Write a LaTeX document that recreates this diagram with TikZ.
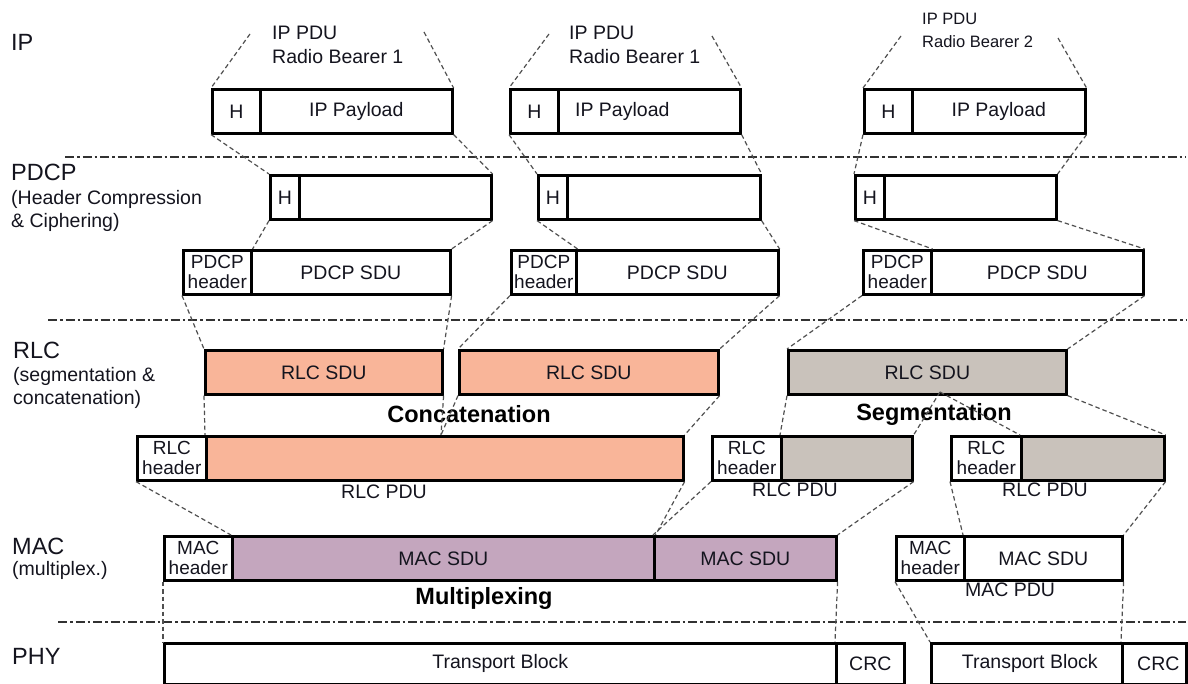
\documentclass[tikz,border=0pt]{standalone}
\usepackage{fontspec}
\setmainfont{Liberation Sans}
\definecolor{txt}{RGB}{20,20,30}
\definecolor{rlcorange}{RGB}{249,181,153}
\definecolor{rlcgray}{RGB}{201,194,187}
\definecolor{macpurple}{RGB}{196,166,190}
\definecolor{guide}{RGB}{80,80,80}
\definecolor{sepline}{RGB}{50,50,50}
\newcommand\cellfont{\fontsize{19.5}{21}\selectfont}
\newcommand\hdrfont{\fontsize{19}{20}\selectfont}
\newcommand\layerfont{\fontsize{23.5}{26}\selectfont}
\newcommand\notefont{\fontsize{19.5}{23.5}\selectfont}
\newcommand\opfont{\fontsize{23.5}{26}\selectfont\bfseries}
\begin{document}
\begin{tikzpicture}[x=1pt,y=-1pt,
  cell/.style={draw=black, line width=2.6pt, inner sep=0pt, anchor=north west,
    minimum height=44pt, font=\cellfont, text=txt},
  hdr/.style={cell, font=\hdrfont, align=center},
  guideline/.style={draw=guide, line width=1.2pt, dash pattern=on 4.5pt off 3pt},
  separator/.style={draw=sepline, line width=1.4pt, dash pattern=on 9pt off 3pt on 2.5pt off 3pt},
  layer/.style={anchor=west, inner sep=0pt, font=\layerfont, text=txt},
  note/.style={anchor=west, inner sep=0pt, font=\notefont, text=txt, align=left},
  caption/.style={inner sep=0pt, font=\cellfont, text=txt},
  op/.style={inner sep=0pt, font=\opfont, text=black}]
\useasboundingbox (0,0) rectangle (1188,684);
\fill[white] (0,0) rectangle (1188,684);

% layer separators
\draw[separator] (65,157) -- (1186,157);
\draw[separator] (48,320) -- (1186,320);
\draw[separator] (58,622) -- (1186,622);

% layer names
\node[layer] (lip) at (11,42) {IP};
\node[layer] (lpdcp) at (11,172) {PDCP};
\node[note] (npdcp) at (11,211) {(Header Compression\\\& Ciphering)};
\node[layer] (lrlc) at (13,350) {RLC};
\node[note] (nrlc) at (13,388) {(segmentation \&\\concatenation)};
\node[layer] (lmac) at (12,546) {MAC};
\node[note] (nmac) at (12,570) {(multiplex.)};
\node[layer] (lphy) at (12,656) {PHY};

% IP PDUs
\node[note] (t1) at (272,45) {IP PDU\\Radio Bearer 1};
\node[note] (t2) at (569,45) {IP PDU\\Radio Bearer 1};
\node[note, font=\fontsize{16.5}{23}\selectfont] (t3) at (922,30) {IP PDU\\Radio Bearer 2};
\coordinate (t1l) at (250,34);
\coordinate (t1r) at (424,32);
\coordinate (t2l) at (549,34);
\coordinate (t2r) at (712,36);
\coordinate (t3l) at (901,36);
\coordinate (t3r) at (1058,38);

\node[cell, minimum width=48pt] (ip1h) at (211,88) {H};
\node[cell, minimum width=192pt] (ip1p) at (259,88) {IP Payload};
\node[cell, minimum width=48pt] (ip2h) at (509,88) {H};
\node[cell, minimum width=182pt, label={[caption, xshift=-27pt]center:IP Payload}] (ip2p) at (557,88) {};
\node[cell, minimum width=48pt] (ip3h) at (863,88) {H};
\node[cell, minimum width=173pt] (ip3p) at (911,88) {IP Payload};

% PDCP: compressed header
\node[cell, minimum width=29pt] (pc1h) at (269,174) {H};
\node[cell, minimum width=192pt] (pc1b) at (298,174) {};
\node[cell, minimum width=29pt] (pc2h) at (537,174) {H};
\node[cell, minimum width=193pt] (pc2b) at (566,174) {};
\node[cell, minimum width=29pt] (pc3h) at (854,174) {H};
\node[cell, minimum width=172pt] (pc3b) at (883,174) {};

% PDCP PDUs
\node[hdr, minimum width=68pt] (pd1h) at (182,249) {PDCP\\header};
\node[cell, minimum width=199pt] (pd1s) at (250,249) {PDCP SDU};
\node[hdr, minimum width=65pt] (pd2h) at (510,249) {PDCP\\header};
\node[cell, minimum width=202pt] (pd2s) at (575,249) {PDCP SDU};
\node[hdr, minimum width=68pt] (pd3h) at (862,249) {PDCP\\header};
\node[cell, minimum width=212pt] (pd3s) at (930,249) {PDCP SDU};

% RLC SDUs
\node[cell, fill=rlcorange, minimum width=237pt] (rs1) at (204,349) {RLC SDU};
\node[cell, fill=rlcorange, minimum width=259pt] (rs2) at (458,349) {RLC SDU};
\node[cell, fill=rlcgray, minimum width=278pt] (rs3) at (787,349) {RLC SDU};

\node[op] (concat) at (469,414) {Concatenation};
\node[op] (segm) at (934,414) {Segmentation};

% RLC PDUs
\node[hdr, minimum width=69pt] (rp1h) at (136,435) {RLC\\header};
\node[cell, fill=rlcorange, minimum width=477pt] (rp1b) at (205,435) {};
\node[hdr, minimum width=69pt] (rp2h) at (711,435) {RLC\\header};
\node[cell, fill=rlcgray, minimum width=131pt] (rp2b) at (780,435) {};
\node[hdr, minimum width=70pt] (rp3h) at (950,435) {RLC\\header};
\node[cell, fill=rlcgray, minimum width=143pt] (rp3b) at (1020,435) {};
\node[caption] (rpl1) at (384,492) {RLC PDU};
\node[caption] (rpl2) at (795,490) {RLC PDU};
\node[caption] (rpl3) at (1045,490) {RLC PDU};

% MAC PDUs
\node[hdr, minimum width=68pt] (mh1) at (163,535) {MAC\\header};
\node[cell, fill=macpurple, minimum width=422pt] (ms1) at (231,535) {MAC SDU};
\node[cell, fill=macpurple, minimum width=182pt] (ms2) at (653,535) {MAC SDU};
\node[hdr, minimum width=68pt] (mh2) at (895,535) {MAC\\header};
\node[cell, minimum width=158pt] (ms3) at (963,535) {MAC SDU};
\node[caption] (mpl) at (1010,590) {MAC PDU};
\node[op] (mux) at (484,598) {Multiplexing};

% PHY transport blocks
\node[cell, minimum width=672pt, minimum height=41pt] (tb1) at (163,642) {Transport Block};
\node[cell, minimum width=68pt, minimum height=41pt] (crc1) at (835,642) {CRC};
\node[cell, minimum width=191pt, minimum height=41pt, label={[caption, xshift=3pt]center:Transport Block}] (tb2) at (930,642) {};
\node[cell, minimum width=64pt, minimum height=41pt, label={[caption, xshift=4pt]center:CRC}] (crc2) at (1121,642) {};

% guide lines: IP
\draw[guideline] (t1l) -- (ip1h.north west);
\draw[guideline] (t1r) -- (ip1p.north east);
\draw[guideline] (t2l) -- (ip2h.north west);
\draw[guideline] (t2r) -- (ip2p.north east);
\draw[guideline] (t3l) -- (ip3h.north west);
\draw[guideline] (t3r) -- (ip3p.north east);
% IP -> compressed
\draw[guideline] (ip1h.south west) -- (pc1h.north west);
\draw[guideline] (ip1p.south east) -- (pc1b.north east);
\draw[guideline] (ip2h.south west) -- (pc2h.north west);
\draw[guideline] (ip2p.south east) -- (pc2b.north east);
\draw[guideline] (ip3h.south west) -- (pc3h.north west);
\draw[guideline] (ip3p.south east) -- (pc3b.north east);
% compressed -> PDCP PDU
\draw[guideline] (pc1h.south west) -- (pd1h.north east);
\draw[guideline] (pc1b.south east) -- (pd1s.north east);
\draw[guideline] (pc2h.south west) -- (pd2h.north east);
\draw[guideline] (pc2b.south east) -- (pd2s.north east);
\draw[guideline] (pc3h.south west) -- (pd3h.north east);
\draw[guideline] (pc3b.south east) -- (pd3s.north east);
% PDCP PDU -> RLC SDU
\draw[guideline] (pd1h.south west) -- (rs1.north west);
\draw[guideline] (pd1s.south east) -- (rs1.north east);
\draw[guideline] (pd2h.south west) -- (rs2.north west);
\draw[guideline] (pd2s.south east) -- (rs2.north east);
\draw[guideline] (pd3h.south west) -- (rs3.north west);
\draw[guideline] (pd3s.south east) -- (rs3.north east);
% RLC SDU -> RLC PDU
\coordinate (cjoin) at (441,435);
\coordinate (ssplit) at (940,392);
\draw[guideline] (rs1.south west) -- (rp1b.north west);
\draw[guideline] (rs1.south east) -- (cjoin);
\draw[guideline] (rs2.south west) -- (cjoin);
\draw[guideline] (rs2.south east) -- (rp1b.north east);
\draw[guideline] (rs3.south west) -- (rp2b.north west);
\draw[guideline] (ssplit) -- (rp2b.north east);
\draw[guideline] (ssplit) -- (rp3b.north west);
\draw[guideline] (rs3.south east) -- (rp3b.north east);
% RLC PDU -> MAC
\draw[guideline] (rp1h.south west) -- (ms1.north west);
\draw[guideline] (rp1b.south east) -- (ms1.north east);
\draw[guideline] (rp2h.south west) -- (ms2.north west);
\draw[guideline] (rp2b.south east) -- (ms2.north east);
\draw[guideline] (rp3h.south west) -- (ms3.north west);
\draw[guideline] (rp3b.south east) -- (ms3.north east);
% MAC -> PHY
\draw[guideline] (mh1.south west) -- (tb1.north west);
\draw[guideline] (ms2.south east) -- (crc1.north west);
\draw[guideline] (mh2.south west) -- (tb2.north west);
\draw[guideline] (ms3.south east) -- (crc2.north west);
\end{tikzpicture}
\end{document}
